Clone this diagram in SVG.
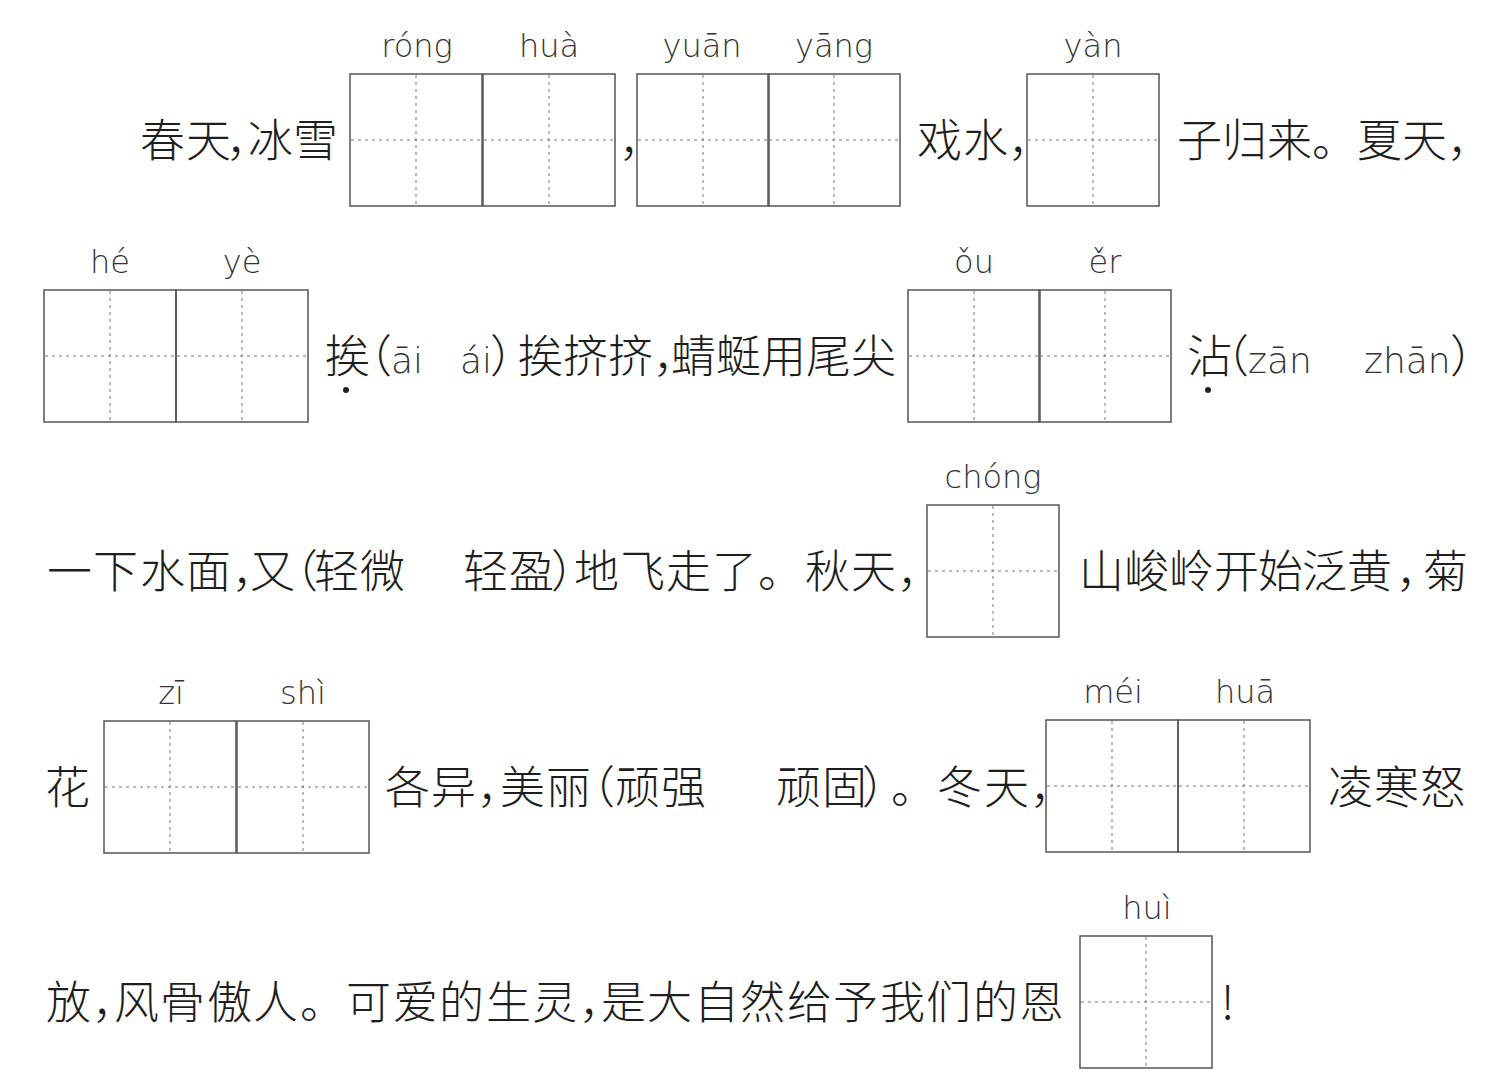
<svg xmlns="http://www.w3.org/2000/svg" xmlns:xlink="http://www.w3.org/1999/xlink" width="1504" height="1085" viewBox="0 0 1504 1085">
<style>
.cn{font-family:"Noto Sans CJK SC","Noto Sans CJK JP",sans-serif;font-size:45px;font-weight:300;fill:#1e1e1e}
.py{font-family:"DejaVu Sans","Liberation Sans",sans-serif;font-size:32px;font-weight:300;fill:#333;text-anchor:middle}
.pyi{font-family:"DejaVu Sans","Liberation Sans",sans-serif;font-size:36px;font-weight:300;fill:#333}
.frame{fill:none;stroke:#555;stroke-width:1.5}
.dash{stroke:#777;stroke-width:1;stroke-dasharray:3 4;fill:none}
.dot{fill:#222}
</style>
<defs>
<g id="cell">
<rect class="frame" x="0" y="0" width="132" height="132"/>
<line class="dash" x1="66" y1="1" x2="66" y2="131"/>
<line class="dash" x1="1" y1="66" x2="131" y2="66"/>
</g>
</defs>
<rect width="1504" height="1085" fill="#ffffff"/>

<!-- Row 1 -->
<g id="row1-text">
<text class="cn" x="140 186 226 248 293" y="157">春天，冰雪</text>
<text class="cn" x="619" y="157">，</text>
<text class="cn" x="917 963 1008" y="157">戏水，</text>
<text class="cn" x="1177 1222 1267 1312 1357 1402 1447" y="157">子归来。夏天，</text>
</g>
<g id="box-ronghua">
<use xlink:href="#cell" x="350" y="74"/>
<use xlink:href="#cell" x="483" y="74"/>
<text class="py" x="417" y="57">róng</text>
<text class="py" x="549" y="57">huà</text>
</g>
<g id="box-yuanyang">
<use xlink:href="#cell" x="637" y="74"/>
<use xlink:href="#cell" x="768" y="74"/>
<text class="py" x="702" y="57">yuān</text>
<text class="py" x="834" y="57">yāng</text>
</g>
<g id="box-yan">
<use xlink:href="#cell" x="1027" y="74"/>
<text class="py" x="1093" y="57">yàn</text>
</g>

<!-- Row 2 -->
<g id="box-heye">
<use xlink:href="#cell" x="44" y="290"/>
<use xlink:href="#cell" x="176" y="290"/>
<text class="py" x="110" y="273">hé</text>
<text class="py" x="242" y="273">yè</text>
</g>
<g id="row2-text">
<text class="cn" y="373"><tspan x="325 347">挨（</tspan><tspan class="pyi" x="391">āi</tspan><tspan class="pyi" x="460">ái</tspan><tspan x="490 518 563 608 653 671 716 761 806 851">）挨挤挤，蜻蜓用尾尖</tspan></text>
<circle class="dot" cx="346" cy="390" r="3"/>
<text class="cn" y="373"><tspan x="1187 1204">沾（</tspan><tspan class="pyi" x="1248">zān</tspan><tspan class="pyi" x="1364">zhān</tspan><tspan x="1450">）</tspan></text>
<circle class="dot" cx="1208" cy="390" r="3"/>
</g>
<g id="box-ouer">
<use xlink:href="#cell" x="908" y="290"/>
<use xlink:href="#cell" x="1039" y="290"/>
<text class="py" x="974" y="273">ǒu</text>
<text class="py" x="1105" y="273">ěr</text>
</g>

<!-- Row 3 -->
<g id="row3-text">
<text class="cn" x="47 93 140 186 232 250 273 314 360 463 509 551 574 620 666 712 758 805 851 897" y="588">一下水面，又（轻微轻盈）地飞走了。秋天，</text>
<text class="cn" x="1079 1124 1169 1214 1258 1302 1347 1396 1423" y="588">山峻岭开始泛黄，菊</text>
</g>
<g id="box-chong">
<use xlink:href="#cell" x="927" y="505"/>
<text class="py" x="993" y="488">chóng</text>
</g>

<!-- Row 4 -->
<g id="row4-text">
<text class="cn" x="45" y="804">花</text>
<text class="cn" x="385 431 477 500 546 570 615 661 776 822 862 891 937 984 1030" y="804">各异，美丽（顽强顽固）。冬天，</text>
<text class="cn" x="1328 1374 1420" y="804">凌寒怒</text>
</g>
<g id="box-zishi">
<use xlink:href="#cell" x="104" y="721"/>
<use xlink:href="#cell" x="237" y="721"/>
<text class="py" x="171" y="704">zī</text>
<text class="py" x="303" y="704">shì</text>
</g>
<g id="box-meihua">
<use xlink:href="#cell" x="1046" y="720"/>
<use xlink:href="#cell" x="1178" y="720"/>
<text class="py" x="1113" y="703">méi</text>
<text class="py" x="1245" y="703">huā</text>
</g>

<!-- Row 5 -->
<g id="row5-text">
<text class="cn" x="46 92 114 160 207 253 300 346 393 439 486 532 579 601 647 694 740 787 833 880 926 973 1019" y="1019">放，风骨傲人。可爱的生灵，是大自然给予我们的恩</text>
<text class="cn" x="1221" y="1019">!</text>
</g>
<g id="box-hui">
<use xlink:href="#cell" x="1080" y="936"/>
<text class="py" x="1147" y="919">huì</text>
</g>
</svg>
